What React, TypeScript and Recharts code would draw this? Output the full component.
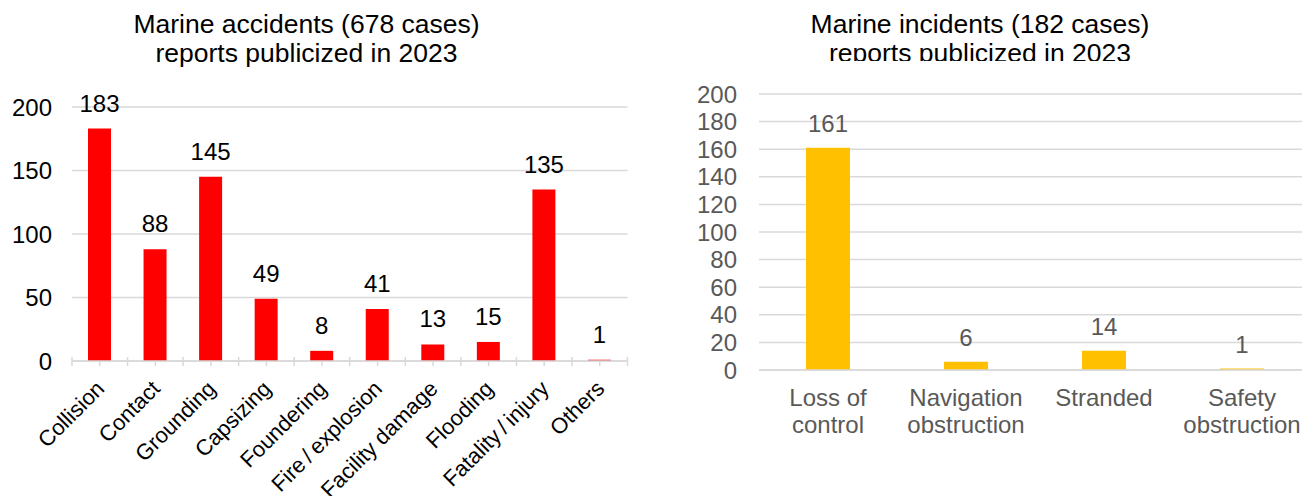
import React from 'react';
import { BarChart, Bar, XAxis, YAxis, CartesianGrid, LabelList } from 'recharts';

// Marine accidents by type (reports publicized in 2023)
const accidentTypes = [
  'Collision',
  'Contact',
  'Grounding',
  'Capsizing',
  'Foundering',
  'Fire\u2009/\u2009explosion',
  'Facility damage',
  'Flooding',
  'Fatality\u2009/\u2009injury',
  'Others',
];
const accidentCounts = [183, 88, 145, 49, 8, 41, 13, 15, 135, 1];
const accidentTicks = [0, 50, 100, 150, 200];

// Marine incidents by type (reports publicized in 2023)
const incidentTypes = ['Loss of\ncontrol', 'Navigation\nobstruction', 'Stranded', 'Safety\nobstruction'];
const incidentCounts = [161, 6, 14, 1];
const incidentTicks = [0, 20, 40, 60, 80, 100, 120, 140, 160, 180, 200];

const accidentData = accidentTypes.map((name, i) => ({ name, value: accidentCounts[i] }));
const incidentData = incidentTypes.map((name, i) => ({ name, value: incidentCounts[i] }));

const FONT = '"Liberation Sans", Arial, Helvetica, sans-serif';
const GRID = '#d9d9d9';
const GRAY_TEXT = '#595959';

// left chart layout
const L_W = 650;
const L_TOP = 107;
const L_YAXIS_W = 72;
const L_RIGHT = 22.5;
const L_PLOT_W = L_W - L_YAXIS_W - L_RIGHT;
const L_HALF_BAND = L_PLOT_W / accidentTypes.length / 2;

// right chart layout
const R_LEFT = 650;
const R_W = 680;
const R_TOP = 94;
const R_YAXIS_W = 109;
const R_RIGHT = 19;

const H = 496;

const AccidentTick = (props: any) => {
  const { x, y, payload, index } = props;
  const tx = x + 6;
  const ty = y + 29;
  const last = index === accidentTypes.length - 1;
  return (
    <g>
      <line x1={x} y1={y} x2={x} y2={y + 5} stroke={GRID} strokeWidth={1.5} />
      <line x1={x - L_HALF_BAND} y1={y - 4} x2={x - L_HALF_BAND} y2={y + 5} stroke={GRID} strokeWidth={1.5} />
      {last && (
        <line x1={x + L_HALF_BAND} y1={y - 4} x2={x + L_HALF_BAND} y2={y + 5} stroke={GRID} strokeWidth={1.5} />
      )}
      <text
        x={tx}
        y={ty}
        transform={`rotate(-45, ${tx}, ${ty})`}
        textAnchor="end"
        fontSize={22}
        fontFamily={FONT}
        fill="#000"
      >
        {payload.value}
      </text>
    </g>
  );
};

const IncidentTick = (props: any) => {
  const { x, y, payload } = props;
  const lines = String(payload.value).split('\n');
  return (
    <text x={x} y={y + 36} textAnchor="middle" fontSize={24} fontFamily={FONT} fill={GRAY_TEXT}>
      {lines.map((line, i) => (
        <tspan key={i} x={x} dy={i === 0 ? 0 : 26.5}>
          {line}
        </tspan>
      ))}
    </text>
  );
};

const titleStyle: React.CSSProperties = {
  position: 'absolute',
  top: 9.5,
  textAlign: 'center',
  fontSize: 26.5,
  lineHeight: '29.5px',
  color: '#000',
  fontFamily: FONT,
  whiteSpace: 'nowrap',
};

export default function App() {
  return (
    <div
      style={{
        position: 'absolute',
        left: 0,
        top: 0,
        width: 1302,
        height: H,
        overflow: 'hidden',
        background: '#fff',
        fontFamily: FONT,
      }}
    >
      <div style={{ ...titleStyle, left: 0, width: 613 }}>
        Marine accidents (678 cases)
        <br />
        reports publicized in 2023
      </div>
      <div style={{ ...titleStyle, left: R_LEFT, width: 660, height: 51.5, overflow: 'hidden' }}>
        Marine incidents (182 cases)
        <br />
        reports publicized in 2023
      </div>

      <div style={{ position: 'absolute', left: 0, top: 0 }}>
        <BarChart
          width={L_W}
          height={H}
          data={accidentData}
          margin={{ top: L_TOP, right: L_RIGHT, bottom: 0, left: 0 }}
        >
          <CartesianGrid vertical={false} stroke={GRID} strokeWidth={1.5} />
          <XAxis
            dataKey="name"
            type="category"
            interval={0}
            height={H - L_TOP - 254}
            axisLine={{ stroke: GRID, strokeWidth: 1.5 }}
            tickLine={false}
            tickSize={0}
            tickMargin={0}
            tick={<AccidentTick />}
          />
          <YAxis
            width={L_YAXIS_W}
            domain={[0, 200]}
            ticks={accidentTicks}
            interval={0}
            axisLine={false}
            tickLine={false}
            tickSize={0}
            tickMargin={20}
            tick={{ fill: '#000', fontSize: 24, fontFamily: FONT }}
          />
          <Bar dataKey="value" fill="#ff0000" barSize={23} isAnimationActive={false}>
            <LabelList
              dataKey="value"
              position="top"
              offset={17}
              fill="#000"
              fontSize={24}
              fontFamily={FONT}
            />
          </Bar>
        </BarChart>
      </div>

      <div style={{ position: 'absolute', left: R_LEFT, top: 0 }}>
        <BarChart
          width={R_W}
          height={H}
          data={incidentData}
          margin={{ top: R_TOP, right: R_RIGHT, bottom: 0, left: 0 }}
        >
          <CartesianGrid vertical={false} stroke={GRID} strokeWidth={1.5} />
          <XAxis
            dataKey="name"
            type="category"
            interval={0}
            height={H - R_TOP - 276}
            axisLine={{ stroke: GRID, strokeWidth: 1.5 }}
            tickLine={false}
            tickSize={0}
            tickMargin={0}
            tick={<IncidentTick />}
          />
          <YAxis
            width={R_YAXIS_W}
            domain={[0, 200]}
            ticks={incidentTicks}
            interval={0}
            axisLine={false}
            tickLine={false}
            tickSize={0}
            tickMargin={22}
            tick={{ fill: GRAY_TEXT, fontSize: 24, fontFamily: FONT }}
          />
          <Bar dataKey="value" fill="#ffc000" barSize={44} isAnimationActive={false}>
            <LabelList
              dataKey="value"
              position="top"
              offset={16}
              fill={GRAY_TEXT}
              fontSize={24}
              fontFamily={FONT}
            />
          </Bar>
        </BarChart>
      </div>
    </div>
  );
}
